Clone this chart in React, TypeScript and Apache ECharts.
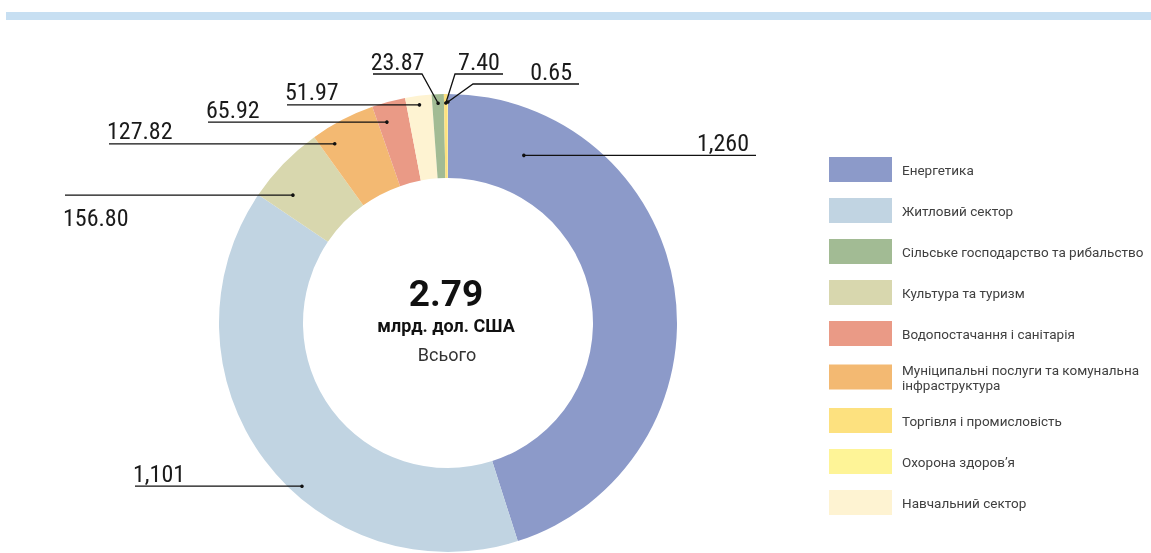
import { useEffect, useRef } from 'react';
import * as echarts from 'echarts';

// Pie order (clockwise from 12 o'clock)
const categories = [
  'Енергетика',
  'Житловий сектор',
  'Культура та туризм',
  'Муніципальні послуги та комунальна інфраструктура',
  'Водопостачання і санітарія',
  'Навчальний сектор',
  'Сільське господарство та рибальство',
  'Торгівля і промисловість',
  'Охорона здоров’я',
];
const values = [1260, 1101, 156.8, 127.82, 65.92, 51.97, 23.87, 7.4, 0.65];
const valueLabels = ['1,260', '1,101', '156.80', '127.82', '65.92', '51.97', '23.87', '7.40', '0.65'];
const legendOrder = [
  'Енергетика',
  'Житловий сектор',
  'Сільське господарство та рибальство',
  'Культура та туризм',
  'Водопостачання і санітарія',
  'Муніципальні послуги та комунальна інфраструктура',
  'Торгівля і промисловість',
  'Охорона здоров’я',
  'Навчальний сектор',
];
const totalLabel = '2.79';
const unitLabel = 'млрд. дол. США';
const totalCaption = 'Всього';

// styles
const colors = ['#8c9ac9', '#c1d4e2', '#d8d7ae', '#f3b972', '#ea9a86', '#fef3d2', '#a2bb94', '#fde17f', '#fef497'];
const CX = 448;
const CY = 323;
const R_IN = 145;
const R_OUT = 229;

// label placement (annotation layout only)
type Place = { frac: number; r: number; endX: number; align: 'left' | 'right' | 'center'; below?: boolean; elbow?: [number, number] };
const placements: Place[] = [
  { frac: 0.15, r: 184, endX: 756, align: 'right' },
  { frac: 0.42, r: 219, endX: 135, align: 'left' },
  { frac: 0.27, r: 201, endX: 65, align: 'left', below: true },
  { frac: 0.21, r: 212, endX: 109, align: 'left' },
  { frac: 0.28, r: 210, endX: 208, align: 'left' },
  { frac: 0.5, r: 220, endX: 287, align: 'left' },
  { frac: 0.5, r: 220, endX: 373, align: 'center', elbow: [422, 74] },
  { frac: 0.5, r: 220, endX: 503, align: 'center', elbow: [455, 74] },
  { frac: 0.5, r: 221, endX: 579, align: 'right', elbow: [473, 84] },
];

const LABEL_FONT = "'Roboto Condensed', 'Liberation Sans Narrow', 'Arial Narrow', Roboto, sans-serif";

function computeGeometry() {
  const total = values.reduce((a, b) => a + b, 0);
  let acc = 0;
  return values.map((v, i) => {
    const start = (acc / total) * 360;
    acc += v;
    const end = (acc / total) * 360;
    const p = placements[i];
    const theta = ((start + (end - start) * p.frac) * Math.PI) / 180;
    const dot: [number, number] = [CX + p.r * Math.sin(theta), CY - p.r * Math.cos(theta)];
    let points: [number, number][];
    let lineY: number;
    let startX: number;
    if (p.elbow) {
      points = [dot, p.elbow, [p.endX, p.elbow[1]]];
      lineY = p.elbow[1];
      startX = p.elbow[0];
    } else {
      points = [dot, [p.endX, dot[1]]];
      lineY = dot[1];
      startX = dot[0];
    }
    let textX: number;
    if (p.align === 'left') textX = p.endX - 2;
    else if (p.align === 'right') textX = p.endX - 7;
    else textX = (startX + p.endX) / 2;
    const textY = p.below ? lineY + 23 : lineY - 12.5;
    return { dot, points, textX, textY, align: p.align };
  });
}

export default function App() {
  const ref = useRef<HTMLDivElement>(null);
  useEffect(() => {
    if (!ref.current) return;
    const chart = echarts.init(ref.current, undefined, { renderer: 'svg' });
    const geom = computeGeometry();
    chart.setOption({
      animation: false,
      textStyle: { fontFamily: 'Roboto, sans-serif' },
      legend: {
        data: legendOrder,
        orient: 'vertical',
        left: 829,
        top: 157,
        padding: 0,
        itemWidth: 63,
        itemHeight: 25,
        itemGap: 16,
        icon: 'rect',
        selectedMode: false,
        formatter: (name: string) =>
          name === 'Муніципальні послуги та комунальна інфраструктура'
            ? 'Муніципальні послуги та комунальна\nінфраструктура'
            : name,
        textStyle: { fontSize: 13.5, color: '#404040', fontFamily: 'Roboto, sans-serif', lineHeight: 15, padding: [0, 0, 0, 5] },
      },
      graphic: [
        { type: 'rect', shape: { x: 6, y: 12, width: 1145, height: 8 }, style: { fill: '#c7dff2' }, silent: true },
        {
          type: 'text',
          x: 446,
          y: 293,
          style: { text: totalLabel, fontSize: 37, fontWeight: 'bold', fill: '#111', align: 'center', verticalAlign: 'middle', fontFamily: 'Roboto, sans-serif' },
        },
        {
          type: 'text',
          x: 446,
          y: 325.5,
          style: { text: unitLabel, fontSize: 18, fontWeight: 'bold', fill: '#111', align: 'center', verticalAlign: 'middle', fontFamily: 'Roboto, sans-serif' },
        },
        {
          type: 'text',
          x: 447,
          y: 354,
          style: { text: totalCaption, fontSize: 18, fill: '#333', align: 'center', verticalAlign: 'middle', fontFamily: 'Roboto, sans-serif' },
        },
        ...geom.map((g) => ({
          type: 'polyline',
          z: 100,
          shape: { points: g.points },
          style: { stroke: '#111', lineWidth: 1.3, fill: null },
          silent: true,
        })),
        ...geom.map((g) => ({
          type: 'circle',
          z: 101,
          shape: { cx: g.dot[0], cy: g.dot[1], r: 1.8 },
          style: { fill: '#111' },
          silent: true,
        })),
      ],
      series: [
        {
          type: 'pie',
          center: [CX, CY],
          radius: [R_IN, R_OUT],
          startAngle: 90,
          clockwise: true,
          avoidLabelOverlap: false,
          data: categories.map((name, i) => ({ name, value: values[i], itemStyle: { color: colors[i] } })),
          label: {
            show: true,
            position: 'outside',
            formatter: (p: any) => valueLabels[p.dataIndex],
            fontSize: 24,
            color: '#1a1a1a',
            fontFamily: LABEL_FONT,
          },
          labelLine: { show: false },
          labelLayout: (params: any) => {
            const g = geom[params.dataIndex];
            return {
              x: g.textX,
              y: g.textY,
              align: g.align,
              verticalAlign: 'middle',
            };
          },
          emphasis: { disabled: true },
        },
      ],
    });
    return () => chart.dispose();
  }, []);
  return <div ref={ref} style={{ position: 'fixed', left: 0, top: 0, width: 1151, height: 553 }} />;
}
